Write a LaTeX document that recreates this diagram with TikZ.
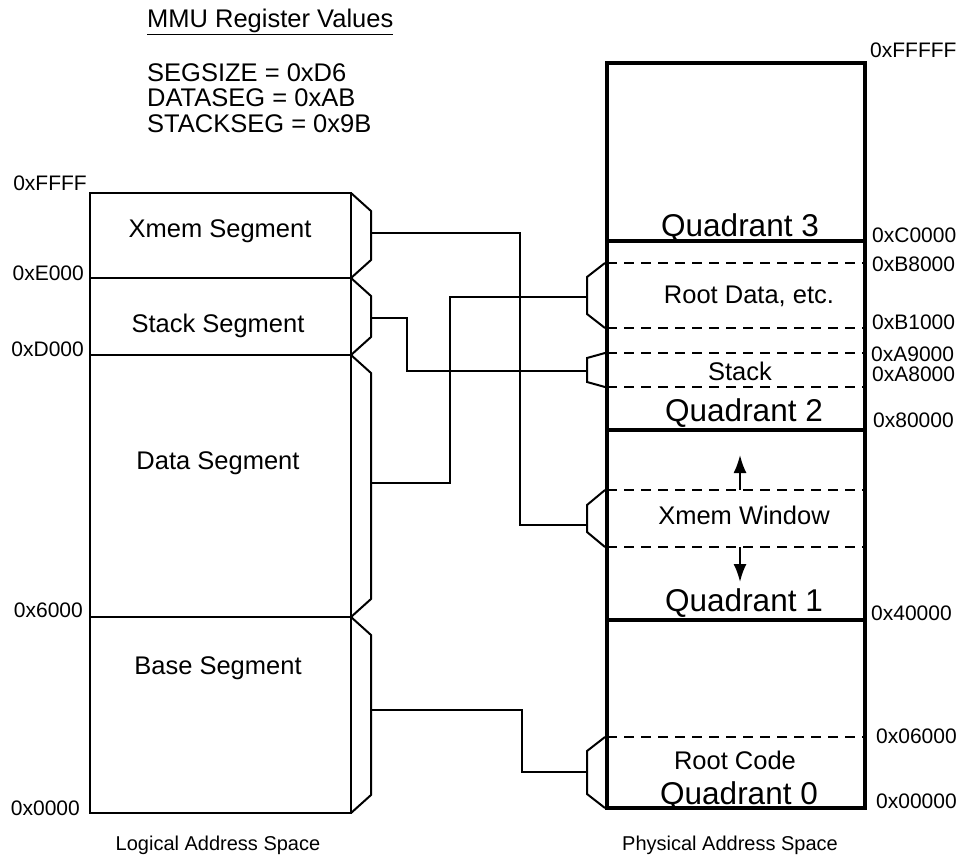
\documentclass[tikz,border=0pt]{standalone}
\usepackage{fontspec}
\setmainfont{Liberation Sans}
\usepackage{tikz}
\usetikzlibrary{arrows.meta,calc}

\begin{document}
\begin{tikzpicture}[
        x=1pt, y=-1pt,
        thinline/.style={line width=2pt},
        thickline/.style={line width=4pt},
        dashline/.style={line width=2pt, dash pattern=on 10pt off 7pt},
        seglabel/.style={font=\fontsize{25.5}{25.5}\selectfont, inner sep=0pt},
        quadlabel/.style={font=\fontsize{31.5}{31.5}\selectfont, inner sep=0pt},
        addrlabel/.style={font=\fontsize{21}{21}\selectfont, inner sep=0pt},
        title/.style={font=\fontsize{20}{20}\selectfont, inner sep=0pt},
        move/.style={-{Latex[length=18pt, width=13pt]}, line width=2pt}
    ]
    \useasboundingbox (0,0) rectangle (963,859);

    % MMU registers
    \node[seglabel, anchor=west] (mmutitle) at (147,22) {\underline{MMU Register Values}};
    \node[seglabel, anchor=north west, align=left] (mmuregs) at (147,63)
        {SEGSIZE = 0xD6\\DATASEG = 0xAB\\STACKSEG = 0x9B};

    % Logical address space
    \draw[thinline] (90,193) rectangle (351,813);
    \foreach \y in {278,355,617}
        \draw[thinline] (90,\y) -- (351,\y);
    \foreach \t/\b in {193/278, 278/355, 355/617, 617/813}
        \draw[thinline] (351,\t) -- (371,\t+18) -- (371,\b-18) -- (351,\b);

    \node[seglabel] (xmemseglbl) at (220,231) {Xmem Segment};
    \node[seglabel] (stackseglbl) at (218,326) {Stack Segment};
    \node[seglabel] (dataseglbl) at (218,463) {Data Segment};
    \node[seglabel] (baseseglbl) at (218,668) {Base Segment};

    \node[addrlabel, anchor=base east] (lffff) at (87,190) {0xFFFF};
    \node[addrlabel, anchor=base east] (le000) at (84,280) {0xE000};
    \node[addrlabel, anchor=base east] (ld000) at (84,356) {0xD000};
    \node[addrlabel, anchor=base east] (l6000) at (83,617) {0x6000};
    \node[addrlabel, anchor=base east] (l0000) at (80,815) {0x0000};

    \node[title] (logical) at (218,845) {Logical Address Space};

    % Physical address space
    \foreach \y in {263,328,353,387,490,547,737}
        \draw[dashline] (607,\y) -- (865,\y);
    \draw[thickline] (607,63) rectangle (865,808);
    \foreach \y in {241,430,620}
        \draw[thickline] (607,\y) -- (865,\y);
    \foreach \t/\b/\d in {263/328/14, 353/387/5, 490/547/15, 737/808/14}
        \draw[thinline] (605,\t) -- (587,\t+\d) -- (587,\b-\d) -- (605,\b);

    \node[quadlabel, anchor=base] (quad3) at (740,236) {Quadrant 3};
    \node[quadlabel, anchor=base] (quad2) at (744,421) {Quadrant 2};
    \node[quadlabel, anchor=base] (quad1) at (744,611) {Quadrant 1};
    \node[quadlabel, anchor=base] (quad0) at (739,804) {Quadrant 0};

    \node[seglabel] (rootdatalbl) at (749,296) {Root Data, etc.};
    \node[seglabel] (stacklbl) at (740,371) {Stack};
    \node[seglabel, anchor=base] (xmemwinlbl) at (744,524) {Xmem Window};
    \node[seglabel, anchor=base] (rootcodelbl) at (735,769) {Root Code};

    \draw[move] (740,490) -- (740,455);
    \draw[move] (740,547) -- (740,582);

    \node[addrlabel, anchor=base west] (pfffff) at (870,58) {0xFFFFF};
    \node[addrlabel, anchor=base west] (pc0000) at (872,242) {0xC0000};
    \node[addrlabel, anchor=west] (pb8000) at (872,264) {0xB8000};
    \node[addrlabel, anchor=base west] (pb1000) at (872,329) {0xB1000};
    \node[addrlabel, anchor=west] (pa9000) at (871,354) {0xA9000};
    \node[addrlabel, anchor=base west] (pa8000) at (872,381) {0xA8000};
    \node[addrlabel, anchor=base west] (p80000) at (873,427) {0x80000};
    \node[addrlabel, anchor=base west] (p40000) at (871,620) {0x40000};
    \node[addrlabel, anchor=west] (p06000) at (876,736) {0x06000};
    \node[addrlabel, anchor=base west] (p00000) at (876,808) {0x00000};

    \node[title] (physical) at (730,845) {Physical Address Space};

    % Connectors
    \coordinate (xmemseg) at (371,233);
    \coordinate (stackseg) at (371,318);
    \coordinate (dataseg) at (371,483);
    \coordinate (baseseg) at (371,710);
    \coordinate (rootdata) at (587,297);
    \coordinate (stackwin) at (587,371);
    \coordinate (xmemwin) at (587,525);
    \coordinate (rootcode) at (587,772);

    \draw[thinline] (xmemseg) -- ++(149,0) |- (xmemwin);
    \draw[thinline] (stackseg) -- ++(36,0) |- (stackwin);
    \draw[thinline] (dataseg) -- ++(79,0) |- (rootdata);
    \draw[thinline] (baseseg) -- ++(151,0) |- (rootcode);

\end{tikzpicture}
\end{document}
